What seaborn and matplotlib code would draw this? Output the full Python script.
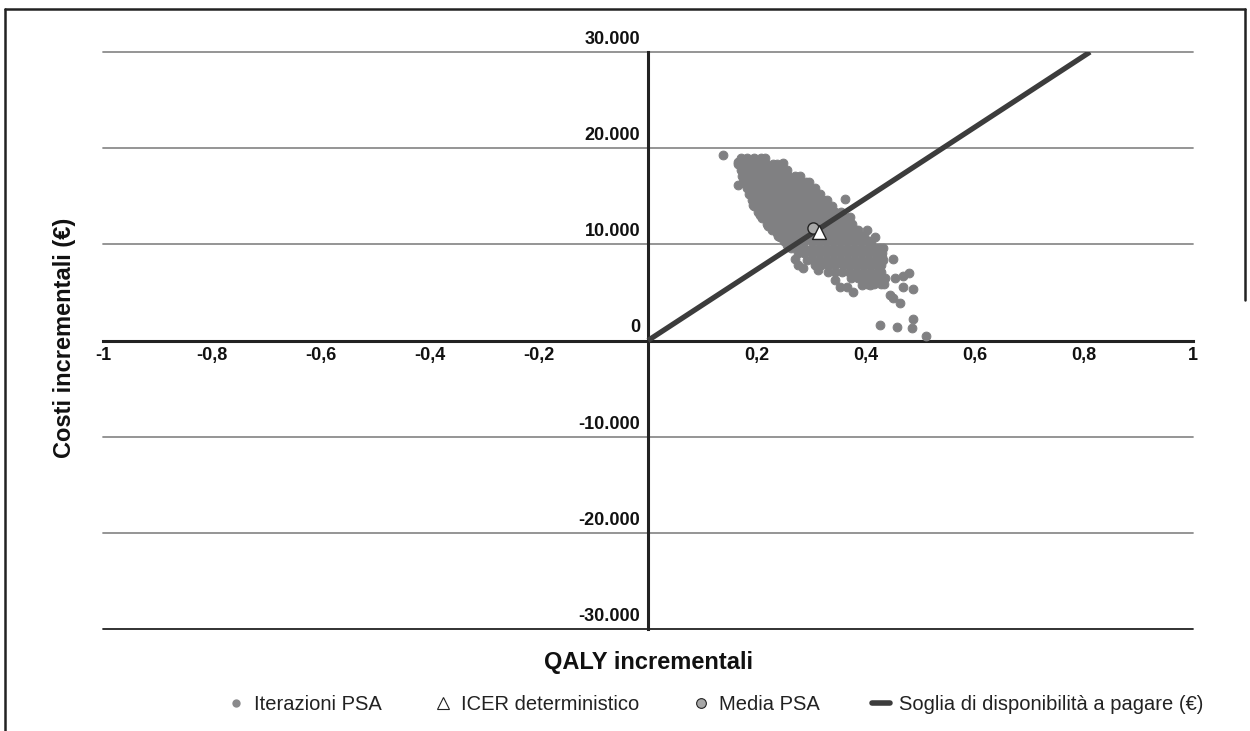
import matplotlib
matplotlib.use("Agg")
import matplotlib.pyplot as plt
import matplotlib.transforms as mtransforms
from matplotlib.lines import Line2D
import seaborn as sns
import pandas as pd

# ---------------- data ----------------
x_ticks = [-1, -0.8, -0.6, -0.4, -0.2, 0, 0.2, 0.4, 0.6, 0.8, 1]
x_labels = ["-1", "-0,8", "-0,6", "-0,4", "-0,2", "", "0,2", "0,4", "0,6", "0,8", "1"]
y_ticks = [30000, 20000, 10000, 0, -10000, -20000, -30000]
y_labels = ["30.000", "20.000", "10.000", "0", "-10.000", "-20.000", "-30.000"]

# dense core of the PSA cloud, one row per cost level
body_cost = [19000, 18400, 17750, 17100, 16500, 15900, 15250, 14650, 14000, 13400, 12750,
             12150, 11500, 10900, 10300, 9650, 9050, 8400, 7800, 7150, 6550, 5900]
body_qaly = [
    [0.170, 0.182, 0.195, 0.207, 0.214],
    [0.165, 0.177, 0.190, 0.203, 0.216, 0.229, 0.236],
    [0.170, 0.183, 0.196, 0.209, 0.222, 0.235, 0.248, 0.255],
    [0.172, 0.178, 0.191, 0.204, 0.217, 0.230, 0.243, 0.256, 0.269, 0.278],
    [0.175, 0.186, 0.199, 0.212, 0.225, 0.238, 0.251, 0.264, 0.277, 0.290, 0.296],
    [0.182, 0.192, 0.205, 0.218, 0.231, 0.244, 0.257, 0.270, 0.283, 0.296, 0.307],
    [0.186, 0.199, 0.212, 0.225, 0.238, 0.251, 0.264, 0.277, 0.290, 0.303, 0.316],
    [0.191, 0.204, 0.217, 0.230, 0.243, 0.256, 0.269, 0.282, 0.295, 0.308, 0.321, 0.328],
    [0.195, 0.208, 0.221, 0.234, 0.247, 0.260, 0.273, 0.286, 0.299, 0.312, 0.325, 0.338],
    [0.201, 0.214, 0.227, 0.240, 0.253, 0.266, 0.279, 0.292, 0.305, 0.318, 0.331, 0.344, 0.355],
    [0.210, 0.220, 0.233, 0.246, 0.259, 0.272, 0.285, 0.298, 0.311, 0.324, 0.337, 0.350, 0.363, 0.366],
    [0.219, 0.231, 0.244, 0.257, 0.270, 0.283, 0.296, 0.309, 0.322, 0.335, 0.348, 0.361, 0.374],
    [0.228, 0.239, 0.252, 0.265, 0.278, 0.291, 0.304, 0.317, 0.330, 0.343, 0.356, 0.369, 0.382, 0.385],
    [0.239, 0.250, 0.263, 0.276, 0.289, 0.302, 0.315, 0.328, 0.341, 0.354, 0.367, 0.380, 0.393, 0.396],
    [0.250, 0.261, 0.274, 0.287, 0.300, 0.313, 0.326, 0.339, 0.352, 0.365, 0.378, 0.391, 0.404, 0.409],
    [0.263, 0.274, 0.287, 0.300, 0.313, 0.326, 0.339, 0.352, 0.365, 0.378, 0.391, 0.404, 0.417, 0.425],
    [0.276, 0.287, 0.300, 0.313, 0.326, 0.339, 0.352, 0.365, 0.378, 0.391, 0.404, 0.417, 0.430],
    [0.291, 0.302, 0.315, 0.328, 0.341, 0.354, 0.367, 0.380, 0.393, 0.406, 0.419, 0.432],
    [0.307, 0.318, 0.331, 0.344, 0.357, 0.370, 0.383, 0.396, 0.409, 0.422, 0.427],
    [0.331, 0.343, 0.356, 0.369, 0.382, 0.395, 0.408, 0.421, 0.428],
    [0.372, 0.385, 0.398, 0.411, 0.424, 0.434],
    [0.401, 0.414, 0.427, 0.433],
]

# scattered iterations around the core
out_qaly = [0.138, 0.165, 0.165, 0.248, 0.306, 0.361, 0.371, 0.402, 0.4165, 0.431, 0.450,
            0.429, 0.479, 0.453, 0.468, 0.486, 0.468, 0.450, 0.462, 0.444, 0.426, 0.457,
            0.486, 0.484, 0.510, 0.376, 0.365, 0.352, 0.343, 0.393, 0.407, 0.312, 0.284,
            0.275, 0.270, 0.220, 0.2055, 0.193, 0.237, 0.242, 0.255, 0.176]
out_cost = [19300, 18580, 16190, 18480, 15470, 14740, 12870, 11520, 10800, 9650, 8510,
            8720, 7060, 6540, 5600, 5400, 6750, 4460, 3940, 4780, 1560, 1450,
            2280, 1250, 420, 5090, 5600, 5600, 6330, 5810, 5810, 7370, 7580,
            7890, 8510, 11940, 13080, 14120, 11210, 10800, 9970, 16400]

mean_qaly, mean_cost = 0.303, 11730     # Media PSA
icer_qaly, icer_cost = 0.314, 11310     # ICER deterministico
wtp_qaly = [0.0, 0.811]                 # Soglia di disponibilità a pagare
wtp_cost = [0, 30000]

legend_labels = ["Iterazioni PSA", "ICER deterministico", "Media PSA",
                 "Soglia di disponibilità a pagare (€)"]

# ---------------- build data frame ----------------
qs, cs = [], []
for c, row in zip(body_cost, body_qaly):
    for q in row:
        qs.append(q)
        cs.append(c)
qs += out_qaly
cs += out_cost
df = pd.DataFrame({"qaly": qs, "cost": cs})

# ---------------- figure ----------------
sns.set_theme(style="white")
plt.rcParams["font.family"] = ["Liberation Sans", "DejaVu Sans"]

W, H = 1250, 731
fig = plt.figure(figsize=(W / 100, H / 100), dpi=100)
ax = fig.add_axes([103 / W, 102 / H, 1090 / W, 577 / H])
ax.set_xlim(-1, 1)
ax.set_ylim(-30000, 30000)

GRID = "#8c8c8c"
DARK = "#222222"
DOT = "#808082"

for v in y_ticks:
    if v == 0:
        continue
    ax.axhline(v, color=DARK if v == -30000 else GRID, lw=1.3, zorder=1, clip_on=False)

sns.scatterplot(data=df, x="qaly", y="cost", ax=ax, s=40, color=DOT,
                edgecolor=DOT, linewidth=0.7, zorder=3, legend=False)
ax.plot(wtp_qaly, wtp_cost, color="#3c3c3c", lw=3.8, solid_capstyle="butt", zorder=4)
ax.scatter([mean_qaly], [mean_cost], s=65, marker="o", facecolor="#a8a8a8",
           edgecolor=DARK, linewidth=1.0, zorder=5)
ax.scatter([icer_qaly], [icer_cost], s=100, marker="^", facecolor="white",
           edgecolor=DARK, linewidth=1.0, zorder=6)

# axes crossing at the origin
for s in ["top", "right"]:
    ax.spines[s].set_visible(False)
ax.spines["bottom"].set_position(("data", 0))
ax.spines["left"].set_position(("data", 0))
for s in ["bottom", "left"]:
    ax.spines[s].set_color(DARK)
    ax.spines[s].set_linewidth(2.2)
    ax.spines[s].set_zorder(2)

ax.set_xticks(x_ticks)
ax.set_xticklabels(x_labels, fontsize=13, fontweight="bold", color="#111111")
ax.tick_params(axis="x", direction="in", length=6.5, width=1.0, color="#777777", pad=5)
ax.set_yticks([])
ax.set_xlabel("")
ax.set_ylabel("")

ylab_tr = mtransforms.offset_copy(ax.transData, fig=fig, x=-8, y=4, units="dots")
for v, lab in zip(y_ticks, y_labels):
    ax.text(0, v, lab, transform=ylab_tr, ha="right", va="bottom",
            fontsize=13, fontweight="bold", color="#111111")

fig.text(648 / W, 1 - 662 / H, "QALY incrementali", ha="center", va="center",
         fontsize=17, fontweight="bold", color="#111111")
fig.text(65 / W, 1 - 338 / H, "Costi incrementali (€)", ha="center", va="center",
         rotation=90, fontsize=17, fontweight="bold", color="#111111")

handles = [
    Line2D([], [], ls="", marker="o", markersize=6, color="#8a8a8c", markeredgewidth=0),
    Line2D([], [], ls="", marker="^", markersize=8, markerfacecolor="white",
           markeredgecolor=DARK, markeredgewidth=0.8),
    Line2D([], [], ls="", marker="o", markersize=7, markerfacecolor="#a8a8a8",
           markeredgecolor=DARK, markeredgewidth=0.8),
    Line2D([], [], color="#3c3c3c", lw=4),
]
fig.legend(handles, legend_labels, loc="center", bbox_to_anchor=(715 / W, 1 - 705 / H),
           ncol=4, frameon=False, fontsize=14.5, handlelength=0.9, handletextpad=0.45,
           columnspacing=2.6, labelcolor="#222222")

# outer frame of the figure box
fig.add_artist(Line2D([5 / W, 5 / W], [0, 1 - 9 / H], transform=fig.transFigure,
                      color=DARK, lw=1.8))
fig.add_artist(Line2D([5 / W, 1245 / W], [1 - 9 / H, 1 - 9 / H], transform=fig.transFigure,
                      color=DARK, lw=1.8))
fig.add_artist(Line2D([1245 / W, 1245 / W], [1 - 9 / H, 1 - 300 / H], transform=fig.transFigure,
                      color=DARK, lw=1.8))

fig.savefig("out.png", dpi=100)
